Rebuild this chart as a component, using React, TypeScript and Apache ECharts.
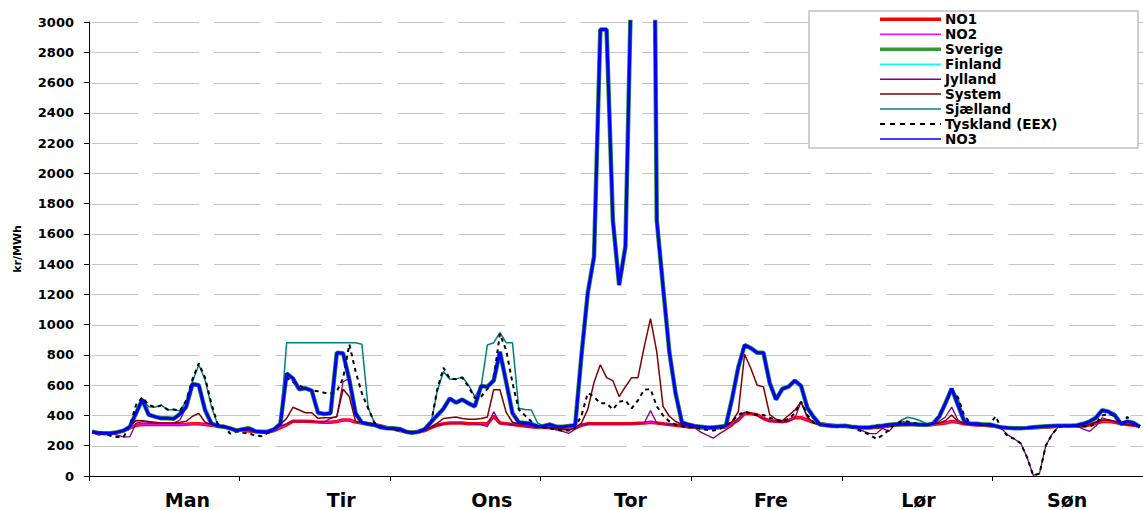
import React, { useEffect, useRef } from "react";
import * as echarts from "echarts";

const dayLabels = ["Man", "Tir", "Ons", "Tor", "Fre", "Lør", "Søn"];
const hourCategories = dayLabels.flatMap((d) =>
  Array.from({ length: 24 }, (_, h) => `${d} ${h}`)
);
const yTicks = { min: 0, max: 3000, interval: 200 };

// NO1 (red, thick)
const no1 = [
  290, 285, 283, 283, 288, 298, 318, 335, 340, 340, 340, 340, 340, 340, 340, 342, 345, 345, 340, 335, 330, 325, 315, 305,
  300, 298, 294, 290, 290, 300, 320, 338, 362, 362, 362, 360, 356, 355, 355, 360, 370, 370, 356, 350, 345, 340, 330, 320,
  310, 300, 294, 290, 290, 300, 320, 335, 345, 350, 350, 350, 345, 345, 345, 345, 395, 350, 345, 340, 335, 330, 325, 320,
  322, 318, 314, 312, 312, 318, 335, 345, 345, 345, 345, 345, 345, 345, 345, 348, 350, 355, 350, 345, 340, 335, 330, 325,
  322, 318, 316, 316, 318, 324, 345, 370, 415, 412, 405, 380, 365, 362, 358, 368, 385, 385, 370, 355, 345, 340, 335, 330,
  328, 324, 320, 318, 318, 320, 325, 330, 335, 338, 340, 340, 338, 336, 340, 345, 350, 360, 355, 345, 340, 337, 335, 332,
  328, 322, 318, 316, 316, 316, 318, 320, 322, 325, 328, 328, 328, 328, 330, 338, 350, 360, 360, 355, 345, 340, 335, 330,
];
// NO2 coincides with NO1 in the picture
const no2 = no1;

// NO3 (blue, drawn on top)
const no3 = [
  293, 285, 282, 283, 290, 300, 325, 415, 505, 405, 392, 381, 381, 378, 410, 458, 608, 600, 436, 348, 330, 326, 315, 300,
  309, 315, 296, 293, 293, 309, 344, 678, 645, 573, 580, 564, 418, 410, 414, 815, 811, 634, 414, 352, 344, 337, 322, 315,
  315, 311, 293, 286, 293, 309, 355, 400, 445, 512, 485, 505, 480, 460, 595, 590, 630, 820, 620, 415, 355, 350, 345, 325,
  330, 340, 326, 326, 330, 337, 800, 1210, 1450, 2950, 2950, 1690, 1262, 1515, 3400, 5000, 6000, 6700, 1690, 1250, 820, 545, 355, 340,
  330, 325, 320, 320, 325, 330, 510, 720, 865, 845, 815, 815, 615, 505, 575, 590, 630, 595, 450, 390, 340, 335, 330, 330,
  332, 326, 322, 320, 322, 328, 332, 338, 342, 342, 342, 342, 338, 338, 345, 390, 480, 578, 470, 362, 345, 345, 340, 340,
  330, 320, 318, 315, 315, 318, 322, 325, 328, 330, 332, 332, 332, 335, 345, 360, 385, 435, 425, 400, 345, 360, 350, 325,
];
// Sverige (green) runs under NO3; Finland is hidden beneath them
const sverige = no3;
const finland = no3;

// Sjælland (teal)
const sjaelland = [
  293, 285, 282, 283, 290, 300, 325, 415, 510, 458, 454, 470, 436, 440, 430, 495, 625, 735, 634, 460, 340, 326, 315, 300,
  309, 315, 296, 293, 293, 309, 344, 881, 881, 881, 881, 881, 881, 881, 881, 881, 881, 881, 881, 870, 450, 350, 330, 315,
  315, 311, 293, 286, 293, 309, 345, 560, 690, 640, 640, 655, 600, 524, 590, 866, 881, 947, 881, 881, 447, 440, 436, 350,
  330, 340, 326, 326, 330, 337, 800, 1210, 1450, 2950, 2950, 1690, 1262, 1515, 3400, 5000, 6000, 6700, 1690, 1250, 820, 545, 355, 340,
  330, 325, 320, 320, 325, 330, 510, 720, 865, 845, 815, 815, 615, 505, 575, 590, 630, 595, 450, 390, 340, 335, 330, 330,
  332, 326, 322, 320, 322, 328, 332, 338, 342, 370, 388, 380, 365, 345, 345, 390, 480, 578, 515, 375, 345, 345, 340, 340,
  330, 320, 318, 315, 315, 318, 322, 325, 328, 330, 332, 332, 332, 335, 345, 360, 385, 435, 428, 415, 355, 360, 350, 325,
];

// Tyskland (EEX) (black dashed)
const tyskland = [
  290, 280, 280, 265, 258, 258, 330, 470, 520, 470, 455, 465, 440, 440, 430, 500, 640, 745, 650, 480, 345, 330, 280, 295,
  285, 280, 268, 263, 285, 310, 345, 650, 620, 600, 575, 565, 560, 550, 545, 560, 645, 870, 690, 546, 447, 352, 330, 315,
  310, 300, 290, 285, 290, 305, 345, 570, 715, 645, 640, 650, 590, 515, 525, 575, 640, 940, 830, 615, 440, 400, 360, 330,
  320, 315, 305, 300, 300, 320, 400, 548, 524, 480, 480, 440, 490, 500, 447, 500, 570, 575, 460, 400, 360, 340, 330, 320,
  325, 310, 305, 300, 310, 330, 360, 403, 425, 414, 403, 403, 385, 370, 359, 377, 414, 491, 403, 352, 340, 335, 330, 325,
  330, 325, 305, 290, 270, 245, 270, 305, 345, 360, 360, 350, 340, 335, 350, 400, 480, 560, 520, 400, 350, 340, 335, 335,
  395, 310, 260, 245, 216, 125, 5, 15, 200, 275, 325, 328, 330, 330, 330, 325, 350, 400, 410, 400, 340, 390, 340, 330,
];

// Jylland (purple)
const jylland = [
  290, 270, 280, 285, 270, 258, 258, 350, 360, 355, 350, 350, 350, 350, 370, 455, 600, 600, 440, 350, 335, 330, 320, 300,
  305, 300, 290, 285, 282, 300, 330, 345, 362, 360, 360, 360, 358, 358, 380, 392, 623, 645, 400, 355, 345, 340, 330, 315,
  310, 300, 288, 284, 288, 300, 320, 335, 345, 350, 350, 350, 345, 345, 340, 326, 425, 350, 345, 340, 335, 330, 325, 320,
  325, 315, 305, 295, 282, 310, 335, 345, 345, 345, 345, 345, 345, 345, 345, 350, 350, 432, 350, 345, 340, 335, 330, 320,
  320, 290, 270, 250, 280, 305, 330, 380, 420, 415, 400, 380, 365, 360, 355, 360, 380, 490, 390, 350, 340, 335, 330, 328,
  330, 325, 315, 295, 280, 280, 315, 295, 340, 365, 350, 345, 340, 335, 345, 360, 390, 455, 370, 345, 340, 337, 335, 332,
  330, 310, 270, 245, 216, 125, 5, 15, 200, 275, 325, 328, 330, 330, 310, 295, 330, 385, 370, 360, 345, 340, 335, 325,
];

// System (dark red)
const systemPrice = [
  290, 285, 283, 283, 288, 298, 330, 366, 365, 360, 355, 350, 350, 350, 355, 362, 395, 414, 355, 340, 332, 325, 315, 300,
  305, 305, 296, 292, 292, 305, 340, 381, 454, 436, 418, 418, 381, 385, 385, 392, 573, 524, 359, 355, 350, 340, 330, 315,
  310, 305, 295, 290, 290, 300, 325, 350, 380, 385, 390, 380, 375, 375, 380, 390, 570, 570, 420, 355, 345, 340, 335, 325,
  325, 320, 315, 310, 305, 320, 350, 440, 620, 735, 650, 630, 525, 590, 650, 650, 855, 1040, 820, 460, 395, 360, 340, 330,
  330, 325, 320, 318, 320, 330, 360, 425, 805, 710, 600, 590, 405, 375, 365, 400, 435, 490, 390, 350, 340, 335, 330, 328,
  330, 325, 320, 318, 318, 320, 325, 330, 335, 340, 342, 342, 340, 338, 342, 350, 365, 403, 360, 345, 340, 337, 335, 332,
  330, 325, 320, 318, 318, 318, 320, 322, 325, 328, 330, 330, 330, 330, 332, 340, 355, 370, 372, 360, 345, 340, 335, 330,
];

const FONT = "DejaVu Sans";

type SeriesDef = {
  name: string;
  data: number[];
  color: string;
  width: number;
  legendWidth: number;
  dashed?: boolean;
};

const seriesDefs: SeriesDef[] = [
  { name: "NO1", data: no1, color: "#ff0000", width: 3.5, legendWidth: 3.5 },
  { name: "NO2", data: no2, color: "#ff00ff", width: 1, legendWidth: 1.5 },
  { name: "Sverige", data: sverige, color: "#339933", width: 4.5, legendWidth: 3.5 },
  { name: "Finland", data: finland, color: "#00ffff", width: 1, legendWidth: 1.5 },
  { name: "Jylland", data: jylland, color: "#800080", width: 1.3, legendWidth: 1.5 },
  { name: "System", data: systemPrice, color: "#800000", width: 1.5, legendWidth: 1.5 },
  { name: "Sjælland", data: sjaelland, color: "#008080", width: 1.5, legendWidth: 1.5 },
  { name: "Tyskland (EEX)", data: tyskland, color: "#000000", width: 2, legendWidth: 2, dashed: true },
  { name: "NO3", data: no3, color: "#0000ff", width: 3, legendWidth: 1.5 },
];

// where the day names sit along the week, in hours from the start
const dayLabelAnchors = [15.7, 40.2, 64.2, 86.3, 108.7, 132.2, 155.9];

export default function App() {
  const ref = useRef<HTMLDivElement>(null);

  useEffect(() => {
    if (!ref.current) return;
    const chart = echarts.init(ref.current, undefined, { renderer: "svg" });

    const legendRowTop = 19.3;
    const legendRowStep = 14.96;
    const legendElements: any[] = [
      {
        type: "rect",
        z: 5,
        shape: { x: 809, y: 11, width: 329, height: 137 },
        style: { fill: "#ffffff", stroke: "#c0c0c0", lineWidth: 1.5 },
      },
    ];
    seriesDefs.forEach((s, k) => {
      const y = legendRowTop + k * legendRowStep;
      legendElements.push({
        type: "line",
        z: 6,
        shape: { x1: 880, y1: y, x2: 941, y2: y },
        style: {
          stroke: s.color,
          lineWidth: s.legendWidth,
          lineDash: s.dashed ? [5, 5] : null,
        },
      });
      legendElements.push({
        type: "text",
        z: 6,
        x: 945,
        y: y,
        style: {
          text: s.name,
          fill: "#000000",
          font: `bold 13.5px "${FONT}"`,
          verticalAlign: "middle",
          align: "left",
        },
      });
    });

    chart.setOption({
      animation: false,
      backgroundColor: "#ffffff",
      textStyle: { fontFamily: FONT },
      grid: { left: 89, top: 22, width: 1057, height: 454, containLabel: false },
      graphic: legendElements,
      xAxis: [
        {
          type: "category",
          data: hourCategories,
          boundaryGap: true,
          axisLine: { show: true, lineStyle: { color: "#000000", width: 1 } },
          axisTick: { show: true, interval: 23, length: 5, lineStyle: { color: "#000000" } },
          axisLabel: { show: false },
          splitLine: { show: false },
        },
        {
          type: "value",
          min: 0,
          max: hourCategories.length,
          position: "bottom",
          axisLine: { show: false },
          axisTick: { show: false },
          splitLine: { show: false },
          axisLabel: {
            show: true,
            customValues: dayLabelAnchors,
            formatter: (v: number) => {
              const i = dayLabelAnchors.findIndex((a) => Math.abs(a - v) < 1e-6);
              return i >= 0 ? dayLabels[i] : "";
            },
            margin: 14,
            fontFamily: FONT,
            fontWeight: "bold",
            fontSize: 19,
            color: "#000000",
          },
        },
      ],
      yAxis: {
        type: "value",
        min: yTicks.min,
        max: yTicks.max,
        interval: yTicks.interval,
        name: "kr/MWh",
        nameLocation: "middle",
        nameGap: 66,
        nameRotate: 90,
        nameTextStyle: { fontFamily: FONT, fontWeight: "bold", fontSize: 11, color: "#000000" },
        axisLine: { show: true, lineStyle: { color: "#000000", width: 1 } },
        axisTick: { show: true, length: 5, lineStyle: { color: "#000000" } },
        axisLabel: {
          margin: 15,
          fontFamily: FONT,
          fontWeight: "bold",
          fontSize: 13,
          color: "#000000",
          formatter: (v: number) => String(v),
        },
        splitLine: { show: false },
      },
      series: seriesDefs.map((s) => ({
        name: s.name,
        type: "line",
        xAxisIndex: 0,
        data: s.data,
        z: 2,
        symbol: "none",
        showSymbol: false,
        smooth: false,
        clip: true,
        color: s.color,
        lineStyle: {
          color: s.color,
          width: s.width,
          type: s.dashed ? [4, 4] : "solid",
        },
        emphasis: { disabled: true },
      })),
    });

    // Long-dash horizontal grid lines at every y tick, placed through the axes' own scales
    const gridElements: any[] = [];
    const xLeft = chart.convertToPixel({ xAxisIndex: 1 }, 0) as number;
    const xRight = chart.convertToPixel({ xAxisIndex: 1 }, hourCategories.length) as number;
    const dashLen = 46;
    const gapLen = 15.1;
    for (let v = yTicks.min + yTicks.interval; v <= yTicks.max; v += yTicks.interval) {
      const yPix = Math.round(chart.convertToPixel({ yAxisIndex: 0 }, v) as number) + 0.5;
      for (let x = xLeft + 3; x < xRight; x += dashLen + gapLen) {
        gridElements.push({
          type: "line",
          z: 1,
          silent: true,
          shape: { x1: x, y1: yPix, x2: Math.min(x + dashLen, xRight), y2: yPix },
          style: { stroke: "#c4c4c4", lineWidth: 1 },
        });
      }
    }
    chart.setOption({ graphic: [...legendElements, ...gridElements] });

    return () => chart.dispose();
  }, []);

  return (
    <div
      ref={ref}
      style={{ position: "absolute", left: 0, top: 0, width: 1143, height: 510, background: "#fff" }}
    />
  );
}
